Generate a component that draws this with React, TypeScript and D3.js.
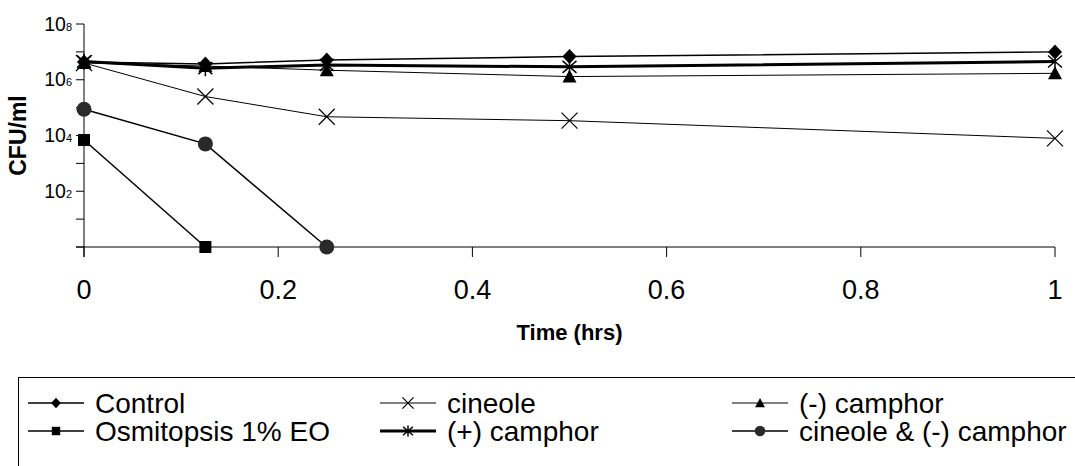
import React from 'react';
import * as d3 from 'd3';

// sampling times (hrs) and CFU/ml per treatment, 1 = nothing recovered
const times = [0, 0.125, 0.25, 0.5, 1];
const control = [4.3e6, 3.7e6, 5.1e6, 6.8e6, 1.0e7];
const cineole = [4.0e6, 2.5e5, 4.7e4, 3.4e4, 7.9e3];
const minusCamphor = [4.0e6, 3.1e6, 2.2e6, 1.3e6, 1.7e6];
const osmitopsis = [6.9e3, 1];
const plusCamphor = [4.5e6, 2.6e6, 3.4e6, 2.9e6, 4.5e6];
const cineoleCamphor = [8.7e4, 5.0e3, 1];

const xTicks = [0, 0.2, 0.4, 0.6, 0.8, 1];
const yTicks = [1, 1e1, 1e2, 1e3, 1e4, 1e5, 1e6, 1e7, 1e8];
const yLabels = [2, 4, 6, 8];

const FONT = '"Liberation Sans", Arial, sans-serif';

type Series = { name: string; values: number[]; marker: string; width: number };

const series: Series[] = [
  { name: 'Control', values: control, marker: 'diamond', width: 1.5 },
  { name: 'cineole', values: cineole, marker: 'x', width: 1 },
  { name: '(-) camphor', values: minusCamphor, marker: 'triangle', width: 1 },
  { name: 'Osmitopsis 1% EO', values: osmitopsis, marker: 'square', width: 1.5 },
  { name: '(+) camphor', values: plusCamphor, marker: 'star', width: 3 },
  { name: 'cineole & (-) camphor', values: cineoleCamphor, marker: 'circle', width: 1.5 },
];

function Marker({ type, x, y, s = 1 }: { type: string; x: number; y: number; s?: number }) {
  const t = `translate(${x},${y}) scale(${s})`;
  switch (type) {
    case 'diamond':
      return <path transform={t} d="M0,-7.5 L7,0 L0,7.5 L-7,0 Z" fill="#000" />;
    case 'square':
      return <rect transform={t} x={-6} y={-6} width={12} height={12} fill="#000" />;
    case 'triangle':
      return <path transform={t} d="M0,-7 L7,6 L-7,6 Z" fill="#000" />;
    case 'circle':
      return <circle transform={t} r={7.5} fill="#2a2a2a" />;
    case 'x':
      return <path transform={t} d="M-8,-8 L8,8 M-8,8 L8,-8" stroke="#000" strokeWidth={1.2 / s} fill="none" />;
    case 'star':
      return <path transform={t} d="M0,-8 L0,8 M-7,-6 L7,6 M-7,6 L7,-6" stroke="#000" strokeWidth={1.5 / s} fill="none" />;
    default:
      return null;
  }
}

export default function App() {
  const width = 1075;
  const height = 466;

  const x = d3.scaleLinear().domain([0, 1]).range([84, 1055]);
  const y = d3.scaleLog().domain([1, 1e8]).range([247, 24]);

  const line = d3.line<[number, number]>()
    .x(d => x(d[0]))
    .y(d => y(d[1]));

  const legendCols = [28, 380, 732];
  const legendRows = [403, 431];

  return (
    <svg width={width} height={height} style={{ position: 'absolute', left: 0, top: 0 }} fontFamily={FONT}>
      <rect width={width} height={height} fill="#fff" />

      {/* axes */}
      <line x1={x(0)} x2={x(0)} y1={y(1e8)} y2={y(1) + 10} stroke="#000" />
      <line x1={x(0) - 8} x2={x(1)} y1={y(1)} y2={y(1)} stroke="#000" />
      {yTicks.map(t => (
        <line key={t} x1={x(0) - 8} x2={x(0)} y1={y(t)} y2={y(t)} stroke="#000" />
      ))}
      {xTicks.map(t => (
        <g key={t}>
          <line x1={x(t)} x2={x(t)} y1={y(1)} y2={y(1) + 10} stroke="#000" />
          <text x={x(t)} y={y(1) + 52} textAnchor="middle" fontSize={27}>{d3.format('~g')(t)}</text>
        </g>
      ))}
      {yLabels.map(p => (
        <text key={p} x={x(0) - 12} y={y(Math.pow(10, p)) + 6.5} textAnchor="end" fontSize={19.5}>
          10<tspan fontSize={11}>{p}</tspan>
        </text>
      ))}

      <text transform={`translate(26,${(y(1e8) + y(1)) / 2}) rotate(-90)`} textAnchor="middle" fontSize={23} fontWeight="bold">CFU/ml</text>
      <text x={(x(0) + x(1)) / 2} y={340} textAnchor="middle" fontSize={22} fontWeight="bold">Time (hrs)</text>

      {/* series */}
      {series.map(s => {
        const pts = s.values.map((v, i) => [times[i], v] as [number, number]);
        return (
          <g key={s.name}>
            <path d={line(pts) || ''} fill="none" stroke="#000" strokeWidth={s.width} />
            {pts.map((p, i) => <Marker key={i} type={s.marker} x={x(p[0])} y={y(p[1])} />)}
          </g>
        );
      })}

      {/* legend */}
      <rect x={18.5} y={377.5} width={1080} height={100} fill="none" stroke="#000" />
      {series.map((s, i) => {
        const lx = legendCols[i % 3];
        const ly = legendRows[Math.floor(i / 3)];
        return (
          <g key={s.name}>
            <line x1={lx} x2={lx + 56} y1={ly} y2={ly} stroke="#000" strokeWidth={s.width} />
            <Marker type={s.marker} x={lx + 28} y={ly} s={0.7} />
            <text x={lx + 67} y={ly + 10} fontSize={28}>{s.name}</text>
          </g>
        );
      })}
    </svg>
  );
}
